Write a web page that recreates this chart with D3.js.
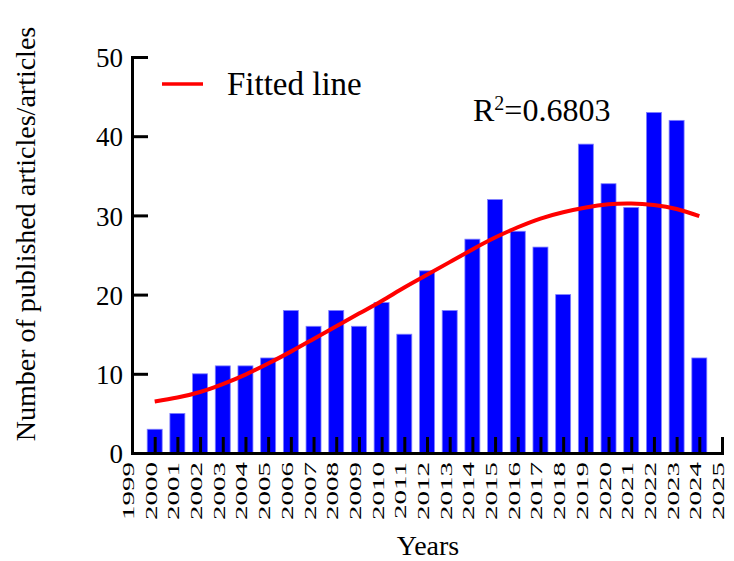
<!DOCTYPE html>
<html>
<head>
<meta charset="utf-8">
<script src="https://cdn.jsdelivr.net/npm/d3@7"></script>
<style>
    body { margin: 0; background: #fff; }
    text { font-family: "Times New Roman", "Liberation Serif", serif; fill: #000; }
</style>
</head>
<body>
<div class="chart-container"></div>
<script>
// data
const years = d3.range(2000, 2025);
const counts = [3, 5, 10, 11, 11, 12, 18, 16, 18, 16, 19, 15, 23, 18, 27, 32, 28, 26, 20, 39, 34, 31, 43, 42, 12];
// fitted curve, read at each year
const fitted = [6.5, 7.0, 7.7, 8.7, 9.9, 11.3, 12.8, 14.4, 16.0, 17.6, 19.2, 20.9, 22.5, 24.1, 25.7, 27.2, 28.5, 29.6, 30.4, 31.0, 31.4, 31.5, 31.3, 30.8, 29.9];
const yTicks = [0, 10, 20, 30, 40, 50];
const xTicks = d3.range(1999, 2026);

const svg_width = 734;
const svg_height = 561;
const plot = {left: 132, right: 722, top: 57, bottom: 453};

const svg = d3.select('.chart-container')
              .append('svg')
              .attr('width', svg_width).attr('height', svg_height);

// scales
const xScale = d3.scaleLinear()
                 .domain([1999, 2025])
                 .range([plot.left, plot.right]);
const yScale = d3.scaleLinear()
                 .domain([0, 50])
                 .range([plot.bottom, plot.top]);
const barWidth = (xScale(2000) - xScale(1999)) * 0.66;

// bars
svg.append('g').attr('class', 'bars')
   .selectAll('rect')
   .data(years).enter()
   .append('rect')
      .attr('x', d => xScale(d) - barWidth / 2)
      .attr('y', (d, i) => yScale(counts[i]))
      .attr('width', barWidth)
      .attr('height', (d, i) => yScale(0) - yScale(counts[i]))
      .style('fill', '#0000ff')
      .style('stroke', '#8080ff')
      .style('stroke-width', 0.8);

// x axis: ticks point inward, labels rotated and squeezed
const xAxis = d3.axisBottom(xScale)
                .tickValues(xTicks)
                .tickFormat(d3.format('d'))
                .tickSizeInner(-16)
                .tickSizeOuter(0);
const xAxisDraw = svg.append('g')
                     .attr('class', 'x axis')
                     .attr('transform', `translate(0,${plot.bottom})`)
                     .call(xAxis);
xAxisDraw.selectAll('.tick line').style('stroke', '#000').style('stroke-width', 3);
xAxisDraw.select('.domain').style('stroke', '#000').style('stroke-width', 3).style('stroke-linecap', 'square');
xAxisDraw.selectAll('.tick text')
         .attr('y', null).attr('dy', null)
         .attr('transform', 'translate(1.5,9) rotate(-90) scale(1,0.6)')
         .style('text-anchor', 'end')
         .style('font-size', '29px');

// y axis
const yAxis = d3.axisLeft(yScale)
                .tickValues(yTicks)
                .tickSizeInner(-16)
                .tickSizeOuter(0);
const yAxisDraw = svg.append('g')
                     .attr('class', 'y axis')
                     .attr('transform', `translate(${plot.left},0)`)
                     .call(yAxis);
yAxisDraw.selectAll('.tick line').style('stroke', '#000').style('stroke-width', 3);
yAxisDraw.select('.domain').style('stroke', '#000').style('stroke-width', 3).style('stroke-linecap', 'square');
yAxisDraw.selectAll('.tick text')
         .attr('x', -9).attr('dy', '0.36em')
         .style('font-size', '27px');

// fitted line
const line = d3.line()
               .x((d, i) => xScale(years[i]))
               .y(d => yScale(d))
               .curve(d3.curveNatural);
svg.append('path')
   .datum(fitted)
   .attr('d', line)
   .style('fill', 'none')
   .style('stroke', '#ff0000')
   .style('stroke-width', 4);

// legend
svg.append('line')
   .attr('x1', 162).attr('x2', 203).attr('y1', 84).attr('y2', 84)
   .style('stroke', '#ff0000').style('stroke-width', 3.5);
svg.append('text')
   .attr('x', 227).attr('y', 95)
   .style('font-size', '33px')
   .text('Fitted line');

// R squared
const r2 = svg.append('text')
              .attr('x', 473).attr('y', 121)
              .style('font-size', '32px');
r2.append('tspan').text('R');
r2.append('tspan').attr('dy', -11).style('font-size', '20px').text('2');
r2.append('tspan').attr('dy', 11).text('=0.6803');

// axis titles
svg.append('text')
   .attr('transform', 'translate(35,234) rotate(-90)')
   .style('text-anchor', 'middle')
   .style('font-size', '28px')
   .text('Number of published articles/articles');
svg.append('text')
   .attr('x', 428).attr('y', 555)
   .style('text-anchor', 'middle')
   .style('font-size', '28px')
   .text('Years');
</script>
</body>
</html>
